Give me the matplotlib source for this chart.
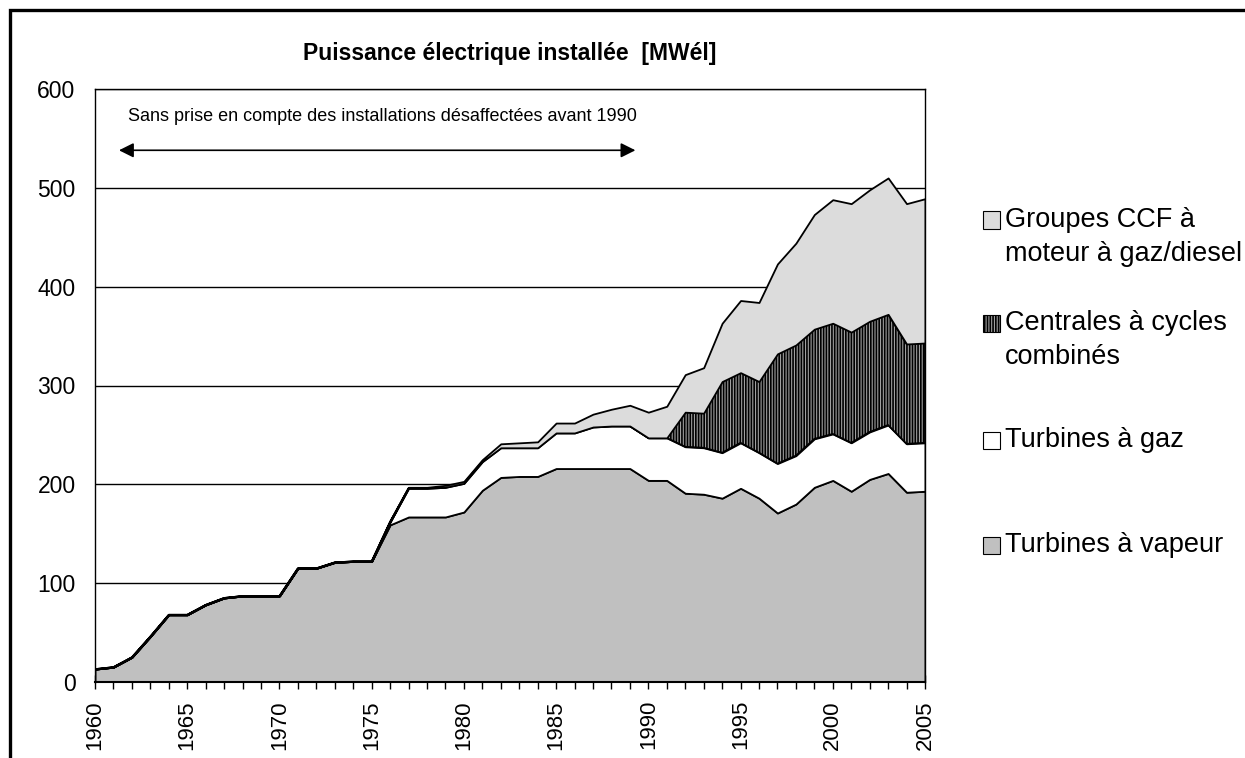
import numpy as np
import matplotlib
matplotlib.use("Agg")
import matplotlib.pyplot as plt
from matplotlib.patches import Rectangle

plt.rcParams['font.family'] = ['Liberation Sans', 'DejaVu Sans']
plt.rcParams['hatch.linewidth'] = 1.2

years = list(range(1960, 2006))

vapeur = [13, 15, 25, 46, 68, 68, 78, 85, 87, 87, 87, 115, 115, 121, 122, 122,
          159, 167, 167, 167, 172, 194, 207, 208, 208, 216, 216, 216, 216, 216,
          204, 204, 191, 190, 186, 196, 186, 171, 180, 197, 204, 193, 205, 211,
          192, 193]
turbines_gaz = [0, 0, 0, 0, 0, 0, 0, 0, 0, 0, 0, 0, 0, 0, 0, 0,
                3, 29, 29, 30, 29, 29, 30, 29, 29, 36, 36, 42, 43, 43,
                43, 43, 47, 47, 46, 46, 46, 50, 49, 49, 47, 49, 48, 49,
                49, 49]
cycles_combines = [0] * 32 + [35, 35, 72, 71, 72, 111, 112, 111, 112, 112, 112, 112,
                              101, 101]
groupes_ccf = [0, 0, 0, 0, 0, 0, 0, 0, 0, 0, 0, 0, 0, 0, 0, 0,
               0, 1, 1, 2, 2, 2, 4, 5, 6, 10, 10, 13, 17, 21,
               26, 32, 38, 46, 59, 73, 80, 91, 103, 116, 125, 130, 133, 138,
               142, 146]

labels = ["Turbines à vapeur", "Turbines à gaz",
          "Centrales à cycles\ncombinés", "Groupes CCF à\nmoteur à gaz/diesel"]
colors = ["#c0c0c0", "#ffffff", "#a0a0a0", "#dcdcdc"]
hatches = [None, None, "||||||", None]

fig = plt.figure(figsize=(12.45, 7.58), dpi=100)
ax = fig.add_axes([95 / 1245, 1 - 682 / 758, 830 / 1245, 593 / 758])

layers = np.array([vapeur, turbines_gaz, cycles_combines, groupes_ccf], dtype=float)
tops = np.cumsum(layers, axis=0)
bottom = np.zeros(len(years))
for i in range(4):
    ax.fill_between(years, bottom, tops[i], facecolor=colors[i], edgecolor="black",
                    hatch=hatches[i], linewidth=1.3, zorder=2)
    bottom = tops[i]

ax.set_xlim(1960, 2005)
ax.set_ylim(0, 600)
ax.set_yticks(range(0, 601, 100))
ax.set_xticks(range(1960, 2006, 5))
ax.set_xticks(years, minor=True)
ax.yaxis.grid(True, color="black", linewidth=1.0)
ax.set_axisbelow(True)
ax.tick_params(axis="y", length=0, pad=14, labelsize=16.5)
ax.tick_params(axis="x", which="both", direction="inout", length=10, width=1,
               pad=8, labelsize=16, labelrotation=90)
for s in ax.spines.values():
    s.set_linewidth(1.0)
ax.spines["bottom"].set_linewidth(1.5)
ax.spines["bottom"].set_zorder(3)

ax.set_title("Puissance électrique installée  [MWél]", fontsize=16.5,
             fontweight="bold", pad=21)

ax.text(1961.8, 572, "Sans prise en compte des installations désaffectées avant 1990",
        fontsize=13, va="center", ha="left")
ax.annotate("", xy=(1961.3, 538), xytext=(1989.3, 538),
            arrowprops=dict(arrowstyle="<|-|>", color="black", lw=1.2,
                            mutation_scale=22, shrinkA=0, shrinkB=0))

# legend drawn by hand, squares aligned with the first line of each label
W, H = 1245, 758
legend_rows = [(3, 220), (2, 323), (1, 440), (0, 545)]
for idx, yc in legend_rows:
    fig.add_artist(Rectangle((983 / W, 1 - (yc + 8.5) / H), 17 / W, 17 / H,
                             transform=fig.transFigure, facecolor=colors[idx],
                             edgecolor="black", hatch=hatches[idx], linewidth=0.8))
    for j, line in enumerate(labels[idx].split("\n")):
        fig.text(1005 / W, 1 - (yc + 34 * j) / H, line, fontsize=19.5,
                 va="center", ha="left")

fig.add_artist(Rectangle((10 / W, -0.1), 1.2, 1.1 - 10.5 / H,
                         transform=fig.transFigure, fill=False,
                         edgecolor="black", linewidth=2.4))

fig.savefig("out.png", dpi=100)
